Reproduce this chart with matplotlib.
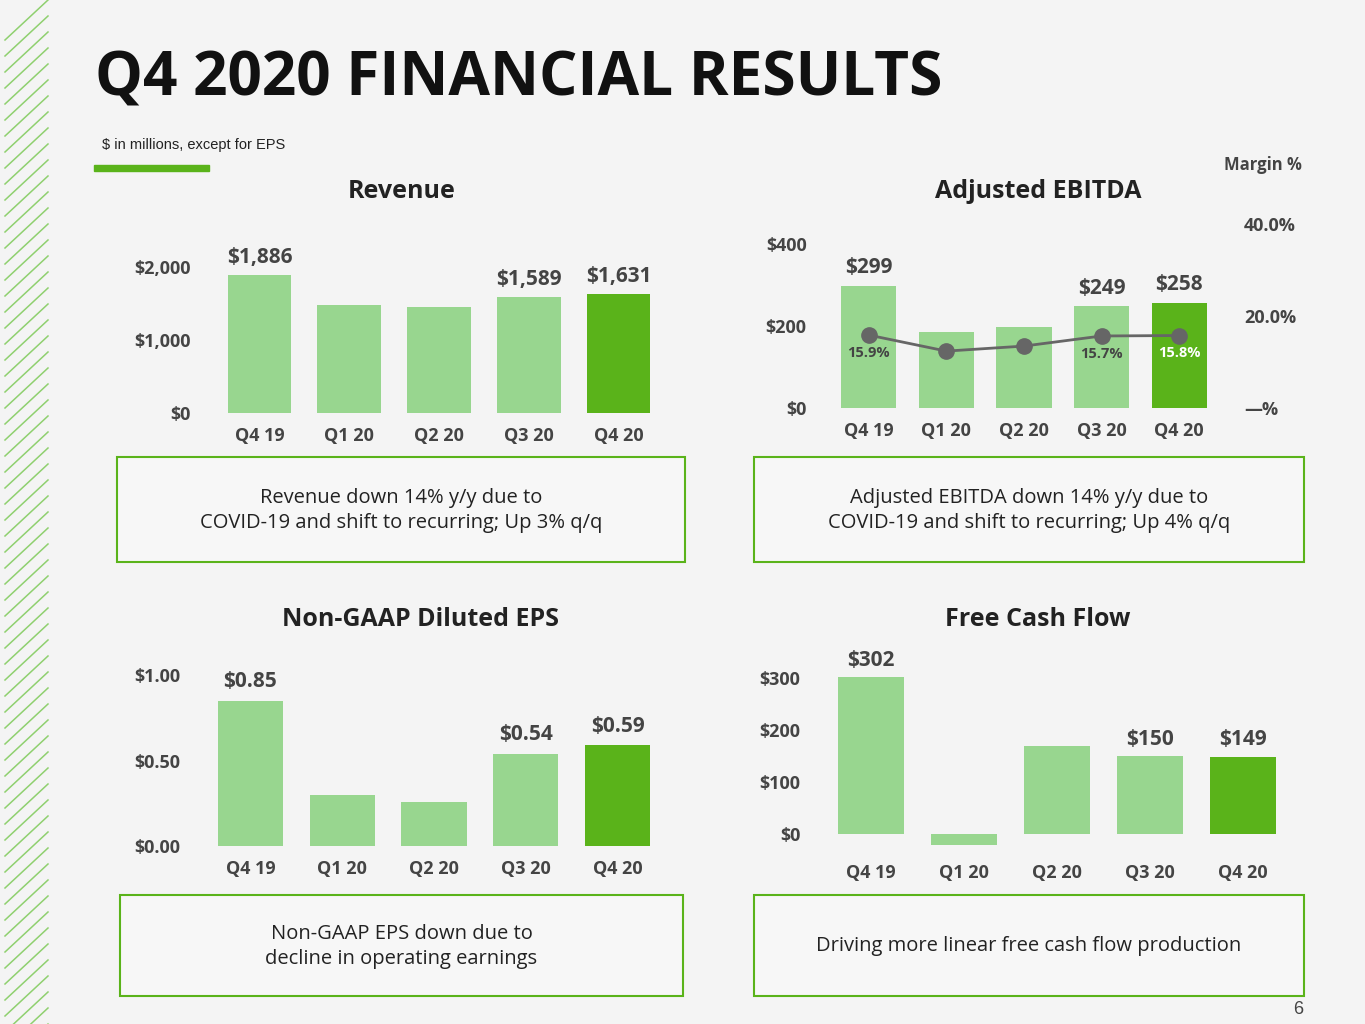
import matplotlib
matplotlib.use("Agg")
import matplotlib.pyplot as plt
from matplotlib.patches import Rectangle

plt.rcParams["font.family"] = ["Open Sans", "DejaVu Sans"]

quarters = ["Q4 19", "Q1 20", "Q2 20", "Q3 20", "Q4 20"]
revenue = [1886, 1470, 1450, 1589, 1631]
revenue_labels = ["$1,886", "", "", "$1,589", "$1,631"]
ebitda = [299, 185, 198, 249, 258]
ebitda_labels = ["$299", "", "", "$249", "$258"]
margin = [15.9, 12.4, 13.5, 15.7, 15.8]
margin_labels = ["15.9%", "", "", "15.7%", "15.8%"]
eps = [0.85, 0.30, 0.26, 0.54, 0.59]
eps_labels = ["$0.85", "", "", "$0.54", "$0.59"]
fcf = [302, -21, 170, 150, 149]
fcf_labels = ["$302", "", "", "$150", "$149"]

LIGHT = "#98d68f"
DARK = "#5ab31a"
TXT = "#444444"
colors = [LIGHT] * 4 + [DARK]

W, H = 1365, 1024
fig = plt.figure(figsize=(W / 100, H / 100), dpi=100)
fig.patch.set_facecolor("#f4f4f4")


def px_axes(x0, y0, x1, y1):
    # pixel box (top-left origin) -> figure axes
    return fig.add_axes([x0 / W, 1 - y1 / H, (x1 - x0) / W, (y1 - y0) / H])


# background decoration: diagonal stripes on the left
bg = fig.add_axes([0, 0, 1, 1])
bg.set_xlim(0, W)
bg.set_ylim(H, 0)
bg.axis("off")
for y in range(0, H + 60, 16):
    bg.plot([5, 48], [y + 40, y], color="#8fd06f", lw=1.1)

bg.text(95, 80, "Q4 2020 FINANCIAL RESULTS", fontsize=43.5, fontweight="bold",
        color="#111111", va="center")
bg.text(102, 145, "$ in millions, except for EPS", fontsize=10.5,
        family="Liberation Sans", color="#222222", va="center")
bg.add_patch(Rectangle((94, 165), 115, 6, color=DARK))
bg.text(1263, 165, "Margin %", fontsize=12, fontweight="bold", color=TXT,
        ha="center", va="center")
bg.text(1303, 1010, "6", fontsize=13, family="Liberation Sans", color=TXT,
        ha="right", va="center")

titles = [(402, 192, "Revenue"), (1038, 192, "Adjusted EBITDA"),
          (420, 619, "Non-GAAP Diluted EPS"), (1038, 619, "Free Cash Flow")]
for x, y, t in titles:
    bg.text(x, y, t, fontsize=18, fontweight="bold", color="#222222",
            ha="center", va="center")

boxes = [((117, 457, 685, 562),
          "Revenue down 14% y/y due to\nCOVID-19 and shift to recurring; Up 3% q/q"),
         ((754, 457, 1304, 562),
          "Adjusted EBITDA down 14% y/y due to\nCOVID-19 and shift to recurring; Up 4% q/q"),
         ((120, 895, 683, 996),
          "Non-GAAP EPS down due to\ndecline in operating earnings"),
         ((754, 895, 1304, 996),
          "Driving more linear free cash flow production")]
for (x0, y0, x1, y1), t in boxes:
    bg.add_patch(Rectangle((x0, y0), x1 - x0, y1 - y0, facecolor="white",
                           alpha=0.35, edgecolor="none"))
    bg.add_patch(Rectangle((x0, y0), x1 - x0, y1 - y0, fill=False,
                           edgecolor=DARK, lw=1.5))
    bg.text((x0 + x1) / 2, (y0 + y1) / 2 + 1, t, fontsize=14.5, color="#222222",
            ha="center", va="center", linespacing=1.3)


def bar_panel(box, values, labels, ylim, ticks, ticklabels, label_off):
    ax = px_axes(*box)
    ax.patch.set_alpha(0)
    x = range(len(values))
    ax.bar(x, values, width=0.71, color=colors)
    for i, (v, lab) in enumerate(zip(values, labels)):
        if lab:
            ax.text(i, v + label_off, lab, ha="center", va="bottom",
                    fontsize=15, fontweight="bold", color=TXT)
    ax.set_ylim(*ylim)
    ax.set_xlim(-0.55, len(values) - 0.45)
    ax.set_yticks(ticks)
    ax.set_yticklabels(ticklabels, fontsize=13, fontweight="bold", color=TXT)
    ax.set_xticks(list(x))
    ax.set_xticklabels(quarters, fontsize=13, fontweight="bold", color=TXT)
    ax.tick_params(length=0, pad=14)
    ax.tick_params(axis="x", pad=10)
    for s in ax.spines.values():
        s.set_visible(False)
    return ax


bar_panel((210, 230, 668, 413), revenue, revenue_labels, (0, 2500),
          [0, 1000, 2000], ["$0", "$1,000", "$2,000"], 90)
ax2 = bar_panel((826, 224, 1222, 408), ebitda, ebitda_labels, (0, 450),
                [0, 200, 400], ["$0", "$200", "$400"], 18)
bar_panel((200, 658, 668, 846), eps, eps_labels, (0, 1.1),
          [0, 0.5, 1.0], ["$0.00", "$0.50", "$1.00"], 0.05)
bar_panel((820, 657, 1294, 850), fcf, fcf_labels, (-30, 340),
          [0, 100, 200, 300], ["$0", "$100", "$200", "$300"], 12)

ax2r = ax2.twinx()
ax2r.plot(range(5), margin, color="#666666", lw=2, marker="o", ms=11)
for i, (m, lab) in enumerate(zip(margin, margin_labels)):
    if lab:
        ax2r.text(i, m - 2.3, lab, ha="center", va="top", fontsize=10.5,
                  fontweight="bold", color="white" if i == 4 else TXT)
ax2r.set_ylim(0, 450 * 0.41 / 4.6)
ax2r.set_yticks([0, 20, 40])
ax2r.set_yticklabels(["—%", "20.0%", "40.0%"], fontsize=13,
                     fontweight="bold", color=TXT)
ax2r.tick_params(length=0, pad=16)
for s in ax2r.spines.values():
    s.set_visible(False)

fig.savefig("out.png", dpi=100, facecolor=fig.get_facecolor())
